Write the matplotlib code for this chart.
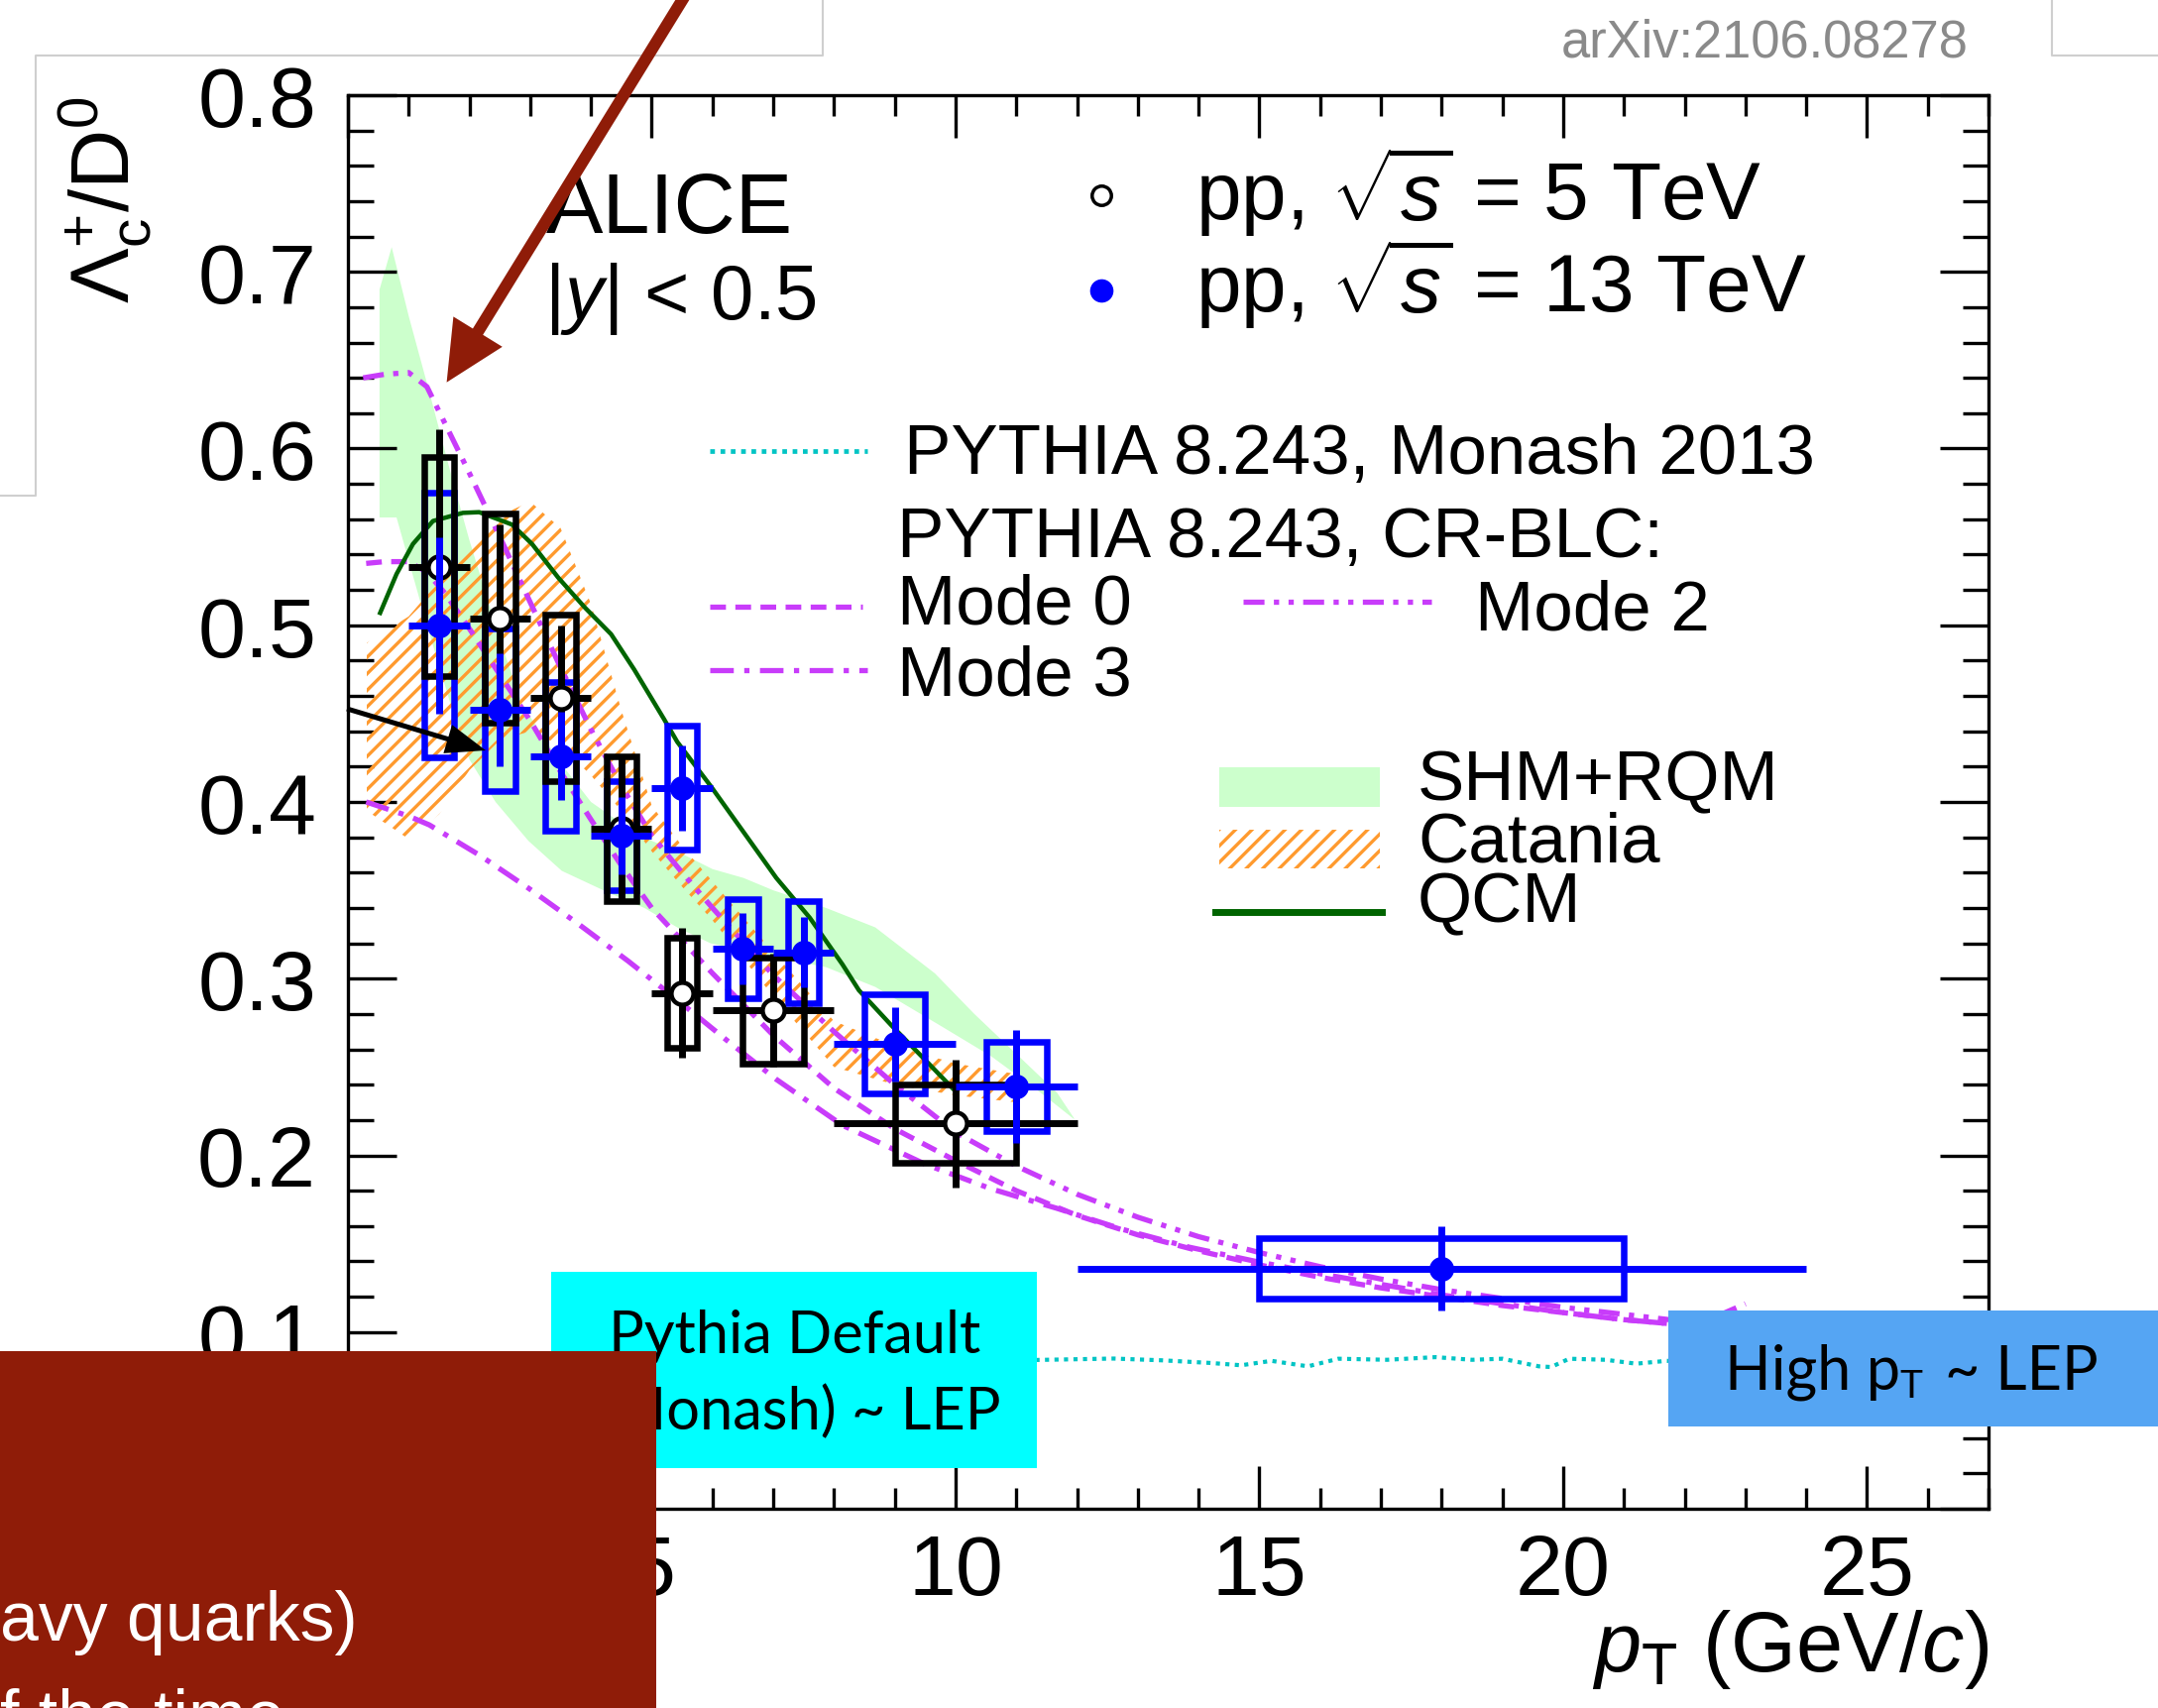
import matplotlib
matplotlib.use("Agg")
import matplotlib.pyplot as plt
from matplotlib.patches import Rectangle, FancyArrow
from matplotlib.ticker import MultipleLocator, FuncFormatter

plt.rcParams["font.family"] = ["Liberation Sans", "DejaVu Sans"]
plt.rcParams["mathtext.fontset"] = "custom"
plt.rcParams["mathtext.rm"] = "Liberation Sans"
plt.rcParams["mathtext.it"] = "Liberation Sans:italic"
plt.rcParams["mathtext.bf"] = "Liberation Sans:bold"
plt.rcParams["hatch.linewidth"] = 2.4
plt.rcParams["hatch.color"] = "#FF9A2E"

# ---------------- measurements: Lambda_c+/D0 ----------------
# pp, sqrt(s) = 5 TeV
pt5 = [1.5, 2.5, 3.5, 4.5, 5.5, 7.0, 10.0]
pt5_hw = [0.5, 0.5, 0.5, 0.5, 0.5, 1.0, 2.0]
ratio5 = [0.533, 0.504, 0.459, 0.385, 0.292, 0.282, 0.218]
stat5 = [0.078, 0.053, 0.041, 0.040, 0.037, 0.032, 0.036]
syst5 = [0.062, 0.059, 0.047, 0.041, 0.031, 0.030, 0.022]

# pp, sqrt(s) = 13 TeV
pt13 = [1.5, 2.5, 3.5, 4.5, 5.5, 6.5, 7.5, 9.0, 11.0, 18.0]
pt13_hw = [0.5, 0.5, 0.5, 0.5, 0.5, 0.5, 0.5, 1.0, 1.0, 6.0]
ratio13 = [0.500, 0.452, 0.426, 0.381, 0.408, 0.317, 0.315, 0.263, 0.239, 0.136]
stat13 = [0.050, 0.032, 0.025, 0.022, 0.024, 0.020, 0.020, 0.021, 0.032, 0.024]
syst13 = [0.075, 0.046, 0.042, 0.031, 0.035, 0.028, 0.029, 0.028, 0.025, 0.017]

# ---------------- model predictions ----------------
monash_x = [1, 2, 3, 4, 5, 6, 7, 8, 9, 10, 11, 11.8, 12.6, 13.4, 14.2, 14.7, 15.2,
            15.8, 16.3, 17.1, 17.9, 18.5, 19.0, 19.6, 19.8, 20.1, 20.7, 21.2, 21.7,
            22.5, 23.5, 24]
monash_y = [0.082, 0.083, 0.084, 0.084, 0.083, 0.084, 0.085, 0.084, 0.084, 0.083,
            0.084, 0.0845, 0.085, 0.084, 0.0825, 0.0812, 0.0837, 0.0806, 0.0849,
            0.0843, 0.0858, 0.0843, 0.0849, 0.0806, 0.0802, 0.0849, 0.0843, 0.0821,
            0.0837, 0.083, 0.084, 0.083]

mode0_x = [0.3, 0.6, 1.0, 1.3, 1.6, 2.0, 2.5, 3.0, 3.5, 4.0, 4.5, 5.0, 6.0, 7.0, 8.0,
           9.0, 10, 11, 12, 13, 14, 15, 16, 17, 18, 19, 20, 21, 22, 23]
mode0_y = [0.535, 0.536, 0.536, 0.530, 0.518, 0.498, 0.472, 0.446, 0.417, 0.390,
           0.364, 0.340, 0.303, 0.268, 0.238, 0.215, 0.197, 0.180, 0.166, 0.155,
           0.146, 0.138, 0.131, 0.125, 0.120, 0.115, 0.111, 0.107, 0.104, 0.101]

mode2_x = [0.25, 0.6, 1.0, 1.3, 1.6, 2.0, 2.5, 3.0, 3.5, 4.0, 4.5, 5.0, 5.5, 6.0, 7.0,
           8.0, 9.0, 10, 11, 12, 13, 14, 15, 16, 17, 18, 19, 20, 21, 22, 22.6, 23]
mode2_y = [0.640, 0.642, 0.643, 0.635, 0.614, 0.586, 0.550, 0.513, 0.476, 0.441,
           0.409, 0.381, 0.360, 0.340, 0.302, 0.270, 0.240, 0.213, 0.194, 0.178,
           0.165, 0.154, 0.145, 0.137, 0.130, 0.124, 0.119, 0.114, 0.110, 0.106,
           0.110, 0.116]

mode3_x = [0.3, 1.0, 1.34, 2.16, 2.98, 3.79, 4.61, 5.42, 6.24, 7.05, 8.14, 9.5, 10.59,
           11.67, 12.76, 13.85, 14.94, 16, 17, 18, 19, 20, 21, 22, 23]
mode3_y = [0.400, 0.392, 0.387, 0.370, 0.351, 0.331, 0.310, 0.288, 0.265, 0.243,
           0.217, 0.195, 0.181, 0.170, 0.158, 0.148, 0.140, 0.133, 0.127, 0.121,
           0.116, 0.111, 0.107, 0.104, 0.101]

shm_up_x = [0.52, 0.72, 1.0, 1.34, 1.7, 2.0, 2.5, 2.87, 3.5, 4.0, 4.5, 5.0, 5.42, 6.0,
            6.51, 7.0, 7.87, 8.68, 9.66, 10.31, 10.86, 11.67, 11.95]
shm_up_y = [0.690, 0.714, 0.675, 0.632, 0.585, 0.548, 0.492, 0.455, 0.422, 0.400,
            0.388, 0.378, 0.372, 0.362, 0.357, 0.350, 0.340, 0.329, 0.303, 0.280,
            0.262, 0.2355, 0.221]
shm_lo_x = [0.52, 0.8, 1.3, 1.78, 2.0, 2.43, 2.97, 3.52, 4.33, 4.88, 5.42, 5.97, 7.05,
            7.87, 8.68, 9.77, 10.59, 11.40, 11.95]
shm_lo_y = [0.561, 0.561, 0.500, 0.445, 0.424, 0.400, 0.378, 0.361, 0.348, 0.340,
            0.329, 0.320, 0.312, 0.3065, 0.2953, 0.273, 0.256, 0.2355, 0.2205]

cat_x = [0.31, 1.0, 1.5, 2.0, 2.5, 3.0, 3.5, 4.0, 4.5, 5.0, 5.5, 6.0, 7.0, 8.0, 9.0,
         10.0, 11.0]
cat_up = [0.490, 0.505, 0.525, 0.545, 0.562, 0.570, 0.555, 0.512, 0.452, 0.398,
          0.375, 0.355, 0.315, 0.276, 0.262, 0.252, 0.246]
cat_lo = [0.395, 0.379, 0.393, 0.418, 0.435, 0.440, 0.432, 0.415, 0.395, 0.372,
          0.352, 0.333, 0.290, 0.250, 0.240, 0.234, 0.230]

qcm_x = [0.53, 0.8, 1.07, 1.40, 1.89, 2.16, 2.70, 3.03, 3.46, 3.90, 4.33, 4.71, 5.20,
         5.42, 5.97, 6.51, 7.05, 7.60, 8.14, 8.41, 8.96, 9.50, 9.95]
qcm_y = [0.507, 0.529, 0.546, 0.559, 0.5636, 0.564, 0.557, 0.546, 0.527, 0.510,
         0.495, 0.475, 0.447, 0.434, 0.409, 0.383, 0.357, 0.3345, 0.308, 0.2934,
         0.273, 0.254, 0.238]

MAG = "#C83CFA"
CYAN_LINE = "#00C4C4"
ORANGE = "#FF9A2E"
BAND = "#CCFFCC"
QCM = "#006400"
LW_MODEL = 3.8

# ---------------- figure / axes ----------------
W, H = 2177, 1724
L, R, T, B = 351, 2006, 97, 1523
fig = plt.figure(figsize=(W / 100, H / 100), dpi=100)
ax = fig.add_axes([L / W, 1 - B / H, (R - L) / W, (B - T) / H])
ax.set_xlim(0, 27)
ax.set_ylim(0, 0.8)


def fx(X):
    return (X - L) / (R - L)


def fy(Y):
    return (B - Y) / (B - T)


for s in ax.spines.values():
    s.set_linewidth(2.4)
ax.xaxis.set_major_locator(MultipleLocator(5))
ax.xaxis.set_minor_locator(MultipleLocator(1))
ax.yaxis.set_major_locator(MultipleLocator(0.1))
ax.yaxis.set_minor_locator(MultipleLocator(0.02))
# the origin labels sit under the slide's red panel, so they are left blank
ax.xaxis.set_major_formatter(FuncFormatter(lambda v, p: "" if abs(v) < 1e-9 else f"{v:.0f}"))
ax.yaxis.set_major_formatter(FuncFormatter(lambda v, p: "" if abs(v) < 1e-9 else f"{v:.1f}"))
ax.tick_params(which="both", direction="in", top=True, right=True, width=2.4)
ax.tick_params(axis="x", which="major", length=31, pad=17, labelsize=62)
ax.tick_params(axis="x", which="minor", length=15)
ax.tick_params(axis="y", which="major", length=35, pad=23, labelsize=62)
ax.tick_params(axis="y", which="minor", length=19)

ax.set_xlabel(r"$p_{\mathrm{T}}$ (GeV/$c$)", fontsize=61, loc="right")
ax.xaxis.set_label_coords(1.0, fy(1622))
ax.set_ylabel(r"$\Lambda_{\mathrm{c}}^{+}/\mathrm{D}^{0}$", fontsize=60, loc="top")
ax.yaxis.set_label_coords(fx(155), 1.0)

# models
ax.fill(shm_up_x + shm_lo_x[::-1], shm_up_y + shm_lo_y[::-1], color=BAND, lw=0, zorder=1)
ax.fill_between(cat_x, cat_lo, cat_up, facecolor="none", edgecolor=ORANGE,
                hatch="//", lw=0, zorder=2)
ax.plot(monash_x, monash_y, color=CYAN_LINE, lw=3.0, ls=(0, (1, 1.3)), zorder=3)
ax.plot(mode0_x, mode0_y, color=MAG, lw=LW_MODEL, ls=(0, (3, 1.8)), zorder=3)
ax.plot(mode2_x, mode2_y, color=MAG, lw=LW_MODEL, ls=(0, (4, 1.8, 1, 1.8, 1, 1.8)), zorder=3)
ax.plot(mode3_x, mode3_y, color=MAG, lw=LW_MODEL, ls=(0, (4.5, 2, 1, 2)), zorder=3)
ax.plot(qcm_x, qcm_y, color=QCM, lw=3.2, zorder=3)

# systematic boxes
for x, hw, y, s in zip(pt13, pt13_hw, ratio13, syst13):
    ax.add_patch(Rectangle((x - hw / 2, y - s), hw, 2 * s, fill=False,
                           ec="blue", lw=4.7, zorder=4))
for x, hw, y, s in zip(pt5, pt5_hw, ratio5, syst5):
    ax.add_patch(Rectangle((x - hw / 2, y - s), hw, 2 * s, fill=False,
                           ec="black", lw=4.7, zorder=5))

# statistical errors and markers
ax.errorbar(pt5, ratio5, xerr=pt5_hw, yerr=stat5, fmt="o", color="black", ms=16,
            mfc="white", mec="black", mew=3.2, elinewidth=5, capsize=0, zorder=6)
ax.errorbar(pt13, ratio13, xerr=pt13_hw, yerr=stat13, fmt="o", color="blue", ms=17,
            elinewidth=5, capsize=0, zorder=7)

# header and legend
tA = dict(transform=ax.transAxes, va="baseline", ha="left", clip_on=False)
ax.text(fx(551), fy(235), "ALICE", fontsize=62, **tA)
ax.text(fx(549), fy(322), r"|$y$| < 0.5", fontsize=56, **tA)
ax.text(fx(1206), fy(222), r"pp, $\sqrt{s}$ = 5 TeV", fontsize=59, **tA)
ax.text(fx(1206), fy(315), r"pp, $\sqrt{s}$ = 13 TeV", fontsize=59, **tA)
ax.plot([fx(1111)], [fy(198)], "o", ms=14, mfc="white", mec="black", mew=2.5,
        transform=ax.transAxes, clip_on=False)
ax.plot([fx(1111)], [fy(294)], "o", ms=16, color="blue",
        transform=ax.transAxes, clip_on=False)

LEG_FS = 51
ax.plot([fx(716), fx(875)], [fy(456), fy(456)], color=CYAN_LINE, lw=3.4,
        ls=(0, (1, 1.2)), transform=ax.transAxes, clip_on=False)
ax.text(fx(912), fy(478), "PYTHIA 8.243, Monash 2013", fontsize=LEG_FS, **tA)
ax.text(fx(905), fy(562), "PYTHIA 8.243, CR-BLC:", fontsize=LEG_FS, **tA)
ax.plot([fx(716), fx(870)], [fy(613), fy(613)], color=MAG, lw=LW_MODEL, ls=(0, (3, 1.8)),
        transform=ax.transAxes, clip_on=False)
ax.text(fx(905), fy(629), "Mode 0", fontsize=LEG_FS, **tA)
ax.plot([fx(1254), fx(1444)], [fy(608), fy(608)], color=MAG, lw=LW_MODEL,
        ls=(0, (4, 1.8, 1, 1.8, 1, 1.8)), transform=ax.transAxes, clip_on=False)
ax.text(fx(1488), fy(636), "Mode 2", fontsize=LEG_FS, **tA)
ax.plot([fx(716), fx(875)], [fy(677), fy(677)], color=MAG, lw=LW_MODEL,
        ls=(0, (4.5, 2, 1, 2)), transform=ax.transAxes, clip_on=False)
ax.text(fx(905), fy(701), "Mode 3", fontsize=LEG_FS, **tA)

ax.add_patch(Rectangle((fx(1230), fy(815)), fx(1392) - fx(1230), fy(775) - fy(815),
                       color=BAND, lw=0, transform=ax.transAxes, clip_on=False))
ax.add_patch(Rectangle((fx(1230), fy(877)), fx(1392) - fx(1230), fy(838) - fy(877),
                       facecolor="none", edgecolor=ORANGE, hatch="//", lw=0,
                       transform=ax.transAxes, clip_on=False))
ax.plot([fx(1226), fx(1394)], [fy(921), fy(921)], color=QCM, lw=5,
        transform=ax.transAxes, clip_on=False)
ax.text(fx(1430), fy(807), "SHM+RQM", fontsize=LEG_FS, **tA)
ax.text(fx(1430), fy(870), "Catania", fontsize=LEG_FS, **tA)
ax.text(fx(1430), fy(930), "QCM", fontsize=LEG_FS, **tA)

# ---------------- slide annotations (pixel coordinates) ----------------
ov = fig.add_axes([0, 0, 1, 1], zorder=10)
ov.set_xlim(0, W)
ov.set_ylim(H, 0)
ov.axis("off")

renderer = fig.canvas.get_renderer()


def fit(txt, width):
    w = txt.get_window_extent(renderer=renderer).width
    txt.set_fontsize(txt.get_fontsize() * width / w)
    return txt


ov.plot([829.5, 829.5, 35.6, 35.6, 0], [0, 57, 57, 501, 501], color="#CFCFCF", lw=1.5)
ov.plot([2070, 2070, 2177], [0, 57, 57], color="#CFCFCF", lw=1.5)

t = ov.text(1986, 57, "arXiv:2106.08278", color="#8A8A8A", fontsize=36,
            ha="right", va="baseline")
fit(t, 412)

ov.add_patch(Rectangle((556, 1284), 490, 198, color="#00FFFF", lw=0, zorder=1))
t1 = ov.text(614, 1365, "Pythia Default", family="Lato", fontsize=42,
             ha="left", va="baseline", zorder=2)
fit(t1, 376)
ov.text(1010, 1442, "(Monash) ~ LEP", family="Lato", fontsize=t1.get_fontsize(),
        ha="right", va="baseline", zorder=2)

ov.add_patch(Rectangle((1683, 1323), 494, 117, color="#55A5F3", lw=0, zorder=1))
h1 = ov.text(1740, 1402, "High p", family="Lato", fontsize=44, ha="left",
             va="baseline", zorder=2)
fit(h1, 177)
ov.text(1916, 1410, "T", family="Lato", fontsize=28, ha="left", va="baseline", zorder=2)
h3 = ov.text(1962, 1402, "~ LEP", family="Lato", fontsize=44, ha="left",
             va="baseline", zorder=2)
fit(h3, 155)

ov.add_patch(Rectangle((0, 1364), 662, 400, color="#8F1C08", lw=0, zorder=3))
q = ov.text(0, 1655, "avy quarks)", color="white", fontsize=50, ha="left",
            va="baseline", zorder=4)
fit(q, 361)
ov.text(0, 1754, "f the time", color="white", fontsize=q.get_fontsize(),
        ha="left", va="baseline", zorder=4)

ov.add_patch(FancyArrow(692, -5, 450.6 - 692, 386.7 + 5, width=12, head_width=58,
                        head_length=60, length_includes_head=True,
                        color="#8F1C08", lw=0, zorder=5))
ov.add_patch(FancyArrow(350, 716, 140, 42, width=5, head_width=30, head_length=40,
                        length_includes_head=True, color="black", lw=0, zorder=5))

fig.savefig("out.png", dpi=100)
